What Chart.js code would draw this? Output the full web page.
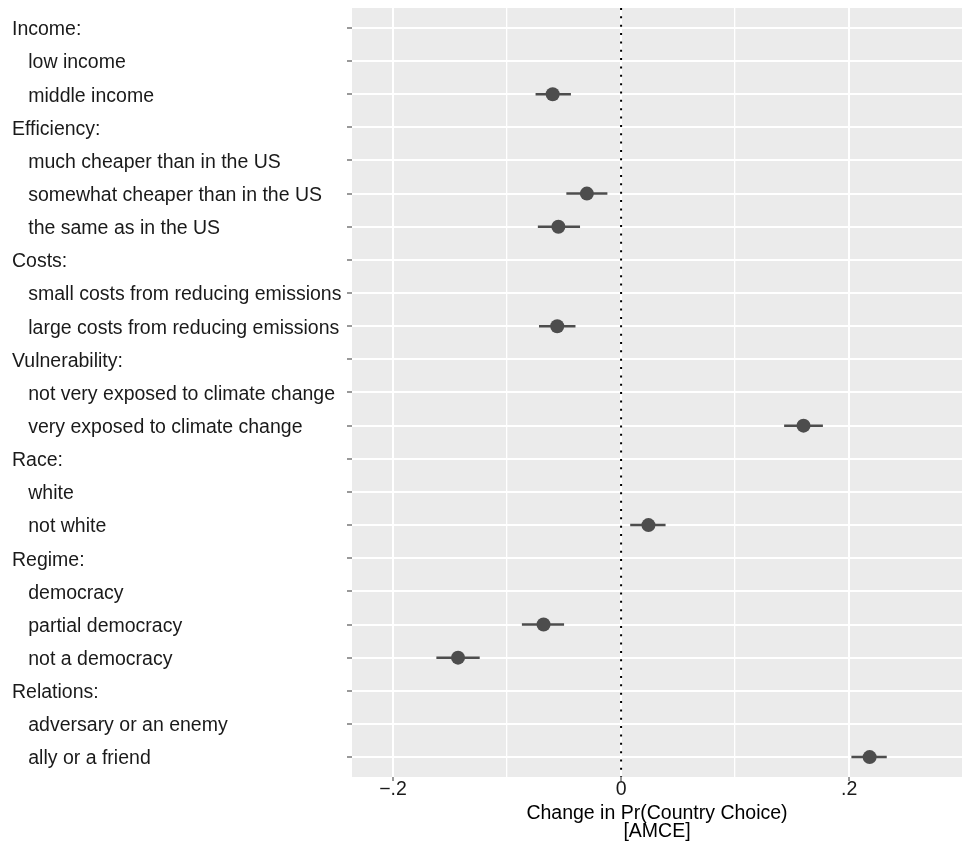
<!DOCTYPE html>
<html>
<head>
<meta charset="utf-8">
<script src="https://cdn.jsdelivr.net/npm/chart.js@4/dist/chart.umd.min.js"></script>
<style>
  html, body { margin: 0; padding: 0; background: #ffffff; overflow: hidden; }
  #wrap { width: 963px; height: 848px; position: relative; }
  #c { display: block; }
</style>
</head>
<body>
<div id="wrap"><canvas id="c" width="963" height="848"></canvas></div>
<script>
// ---- data ----
const rowLabels = [
  "Income:",
  "   low income",
  "   middle income",
  "Efficiency:",
  "   much cheaper than in the US",
  "   somewhat cheaper than in the US",
  "   the same as in the US",
  "Costs:",
  "   small costs from reducing emissions",
  "   large costs from reducing emissions",
  "Vulnerability:",
  "   not very exposed to climate change",
  "   very exposed to climate change",
  "Race:",
  "   white",
  "   not white",
  "Regime:",
  "   democracy",
  "   partial democracy",
  "   not a democracy",
  "Relations:",
  "   adversary or an enemy",
  "   ally or a friend"
];
const estimates = [null, null, -0.060, null, null, -0.030, -0.055, null, null, -0.056, null, null, 0.160, null, null, 0.024, null, null, -0.068, -0.143, null, null, 0.218];
const ciLow     = [null, null, -0.075, null, null, -0.048, -0.073, null, null, -0.072, null, null, 0.143, null, null, 0.008, null, null, -0.087, -0.162, null, null, 0.202];
const ciHigh    = [null, null, -0.044, null, null, -0.012, -0.036, null, null, -0.040, null, null, 0.177, null, null, 0.039, null, null, -0.050, -0.124, null, null, 0.233];
const xTickValues = [-0.2, -0.1, 0, 0.1, 0.2];
const xTickLabels = { "-0.2": "\u2212.2", "0": "0", "0.2": ".2" };
const xTitle = ["Change in Pr(Country Choice)", "[AMCE]"];

// ---- derived datasets ----
const pointData = [];
const ciData = [];
estimates.forEach((v, i) => {
  if (v === null) return;
  pointData.push({ x: v, y: i + 1 });
  ciData.push({ x: ciLow[i], y: i + 1 });
  ciData.push({ x: ciHigh[i], y: i + 1 });
  ciData.push({ x: null, y: null });
});
const yMin = 0.4, yMax = rowLabels.length + 0.6;
const zeroLine = [{ x: 0, y: yMin }, { x: 0, y: yMax }];

const FONT = "'Liberation Sans', Arial, Helvetica, sans-serif";
const markColor = '#4d4d4d';

const panelBg = {
  id: 'panelBg',
  beforeDraw(chart) {
    const a = chart.chartArea, ctx = chart.ctx;
    ctx.save();
    ctx.fillStyle = '#ebebeb';
    ctx.fillRect(a.left, a.top, a.right - a.left, a.bottom - a.top);
    ctx.restore();
  }
};

new Chart(document.getElementById('c'), {
  type: 'scatter',
  data: {
    datasets: [
      {
        label: 'estimate',
        data: pointData,
        pointRadius: 7,
        pointHoverRadius: 7,
        pointBackgroundColor: markColor,
        pointBorderWidth: 0,
        showLine: false
      },
      {
        label: 'ci',
        type: 'line',
        data: ciData,
        borderColor: markColor,
        borderWidth: 2.5,
        pointRadius: 0,
        spanGaps: false,
        fill: false
      },
      {
        label: 'zero',
        type: 'line',
        data: zeroLine,
        borderColor: '#000000',
        borderWidth: 2,
        borderDash: [2, 6.35],
        pointRadius: 0,
        fill: false
      }
    ]
  },
  options: {
    responsive: false,
    animation: false,
    events: [],
    layout: { autoPadding: false, padding: { left: 12, right: 1, top: 8, bottom: 0 } },
    plugins: {
      legend: { display: false },
      tooltip: { enabled: false }
    },
    scales: {
      x: {
        type: 'linear',
        min: -0.236,
        max: 0.299,
        afterBuildTicks: (s) => { s.ticks = xTickValues.map(v => ({ value: v })); },
        afterFit: (s) => { s.height = 71; s.paddingLeft = 0; s.paddingRight = 0; },
        border: { display: false },
        grid: {
          color: '#ffffff',
          lineWidth: (ctx) => (ctx.tick && Math.abs(Math.round(ctx.tick.value * 10)) % 2 === 1 ? 1.3 : 2),
          tickColor: (ctx) => (ctx.tick && xTickLabels[String(ctx.tick.value)] !== undefined ? '#555555' : 'rgba(0,0,0,0)'),
          tickLength: 4,
          tickWidth: 1.2
        },
        ticks: {
          autoSkip: false,
          maxRotation: 0,
          padding: -3,
          color: '#1a1a1a',
          font: { family: FONT, size: 19.5 },
          callback: (v) => {
            const k = String(Math.round(v * 10) / 10);
            return xTickLabels[k] !== undefined ? xTickLabels[k] : '';
          }
        },
        title: {
          display: true,
          text: xTitle,
          color: '#000000',
          font: { family: FONT, size: 19.5, lineHeight: 0.92 },
          padding: { top: 2, bottom: 7 }
        }
      },
      y: {
        type: 'linear',
        reverse: true,
        min: yMin,
        max: yMax,
        afterBuildTicks: (s) => { s.ticks = rowLabels.map((_, i) => ({ value: i + 1 })); },
        afterFit: (s) => { s.width = 340; s.paddingTop = 0; s.paddingBottom = 0; },
        border: { display: false },
        grid: {
          color: '#ffffff',
          lineWidth: 2,
          tickColor: '#555555',
          tickLength: 5,
          tickWidth: 1.2
        },
        ticks: {
          autoSkip: false,
          crossAlign: 'far',
          padding: 2,
          labelOffset: 2,
          color: '#1a1a1a',
          font: { family: FONT, size: 19.5 },
          callback: (v) => rowLabels[Math.round(v) - 1]
        }
      }
    }
  },
  plugins: [panelBg]
});
</script>
</body>
</html>
